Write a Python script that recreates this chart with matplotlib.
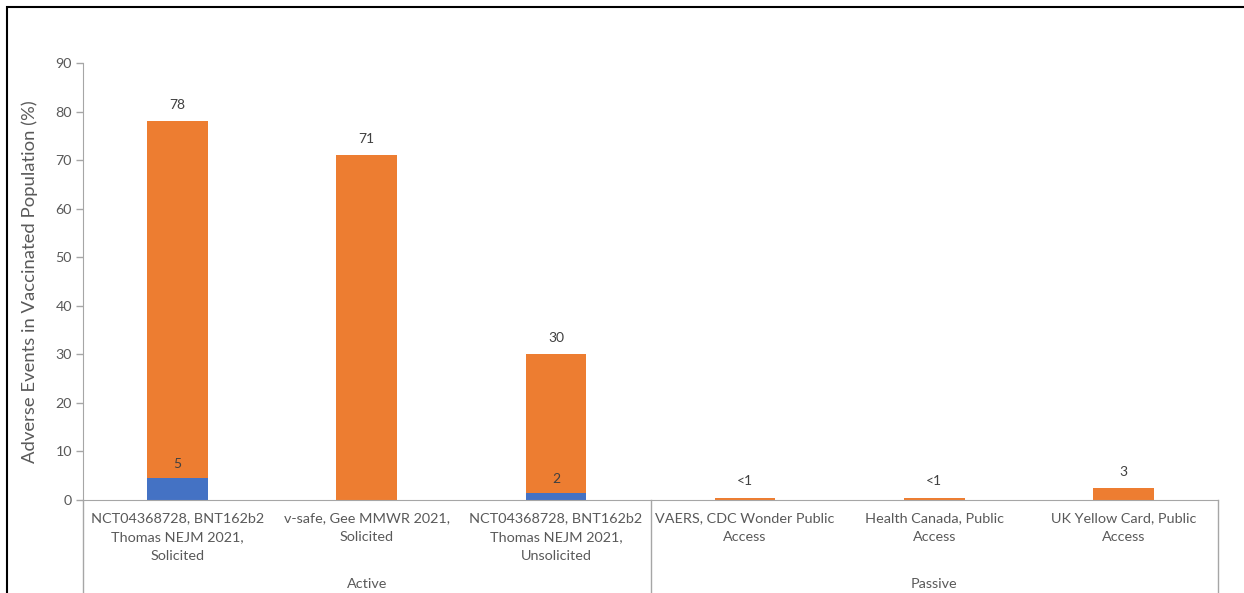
import matplotlib
matplotlib.use("Agg")
import matplotlib.pyplot as plt
from matplotlib.lines import Line2D

plt.rcParams['font.family'] = ['Lato', 'DejaVu Sans']

categories = [
    "NCT04368728, BNT162b2\nThomas NEJM 2021,\nSolicited",
    "v-safe, Gee MMWR 2021,\nSolicited",
    "NCT04368728, BNT162b2\nThomas NEJM 2021,\nUnsolicited",
    "VAERS, CDC Wonder Public\nAccess",
    "Health Canada, Public\nAccess",
    "UK Yellow Card, Public\nAccess",
]
groups = ["Active", "Passive"]
group_sizes = [3, 3]
blue_values = [4.5, 0, 1.4, 0, 0, 0]
orange_values = [73.5, 71, 28.6, 0.4, 0.4, 2.4]
blue_labels = ["5", "", "2", "", "", ""]
total_labels = ["78", "71", "30", "<1", "<1", "3"]
yticks = [0, 10, 20, 30, 40, 50, 60, 70, 80, 90]
ylabel = "Adverse Events in Vaccinated Population (%)"

W, H = 1244, 593
fig = plt.figure(figsize=(W / 100, H / 100), dpi=100)
ax = fig.add_axes([83 / W, 1 - 500 / H, (1218 - 83) / W, (500 - 63) / H])

gray_text = "#595959"
line_gray = "#a6a6a6"
blue = "#4472C4"
orange = "#ED7D31"

x = list(range(len(categories)))
ax.bar(x, blue_values, width=0.32, color=blue, zorder=2)
ax.bar(x, orange_values, width=0.32, bottom=blue_values, color=orange, zorder=2)

for i in x:
    total = blue_values[i] + orange_values[i]
    ax.text(i, total + 2.2, total_labels[i], ha="center", va="bottom",
            fontsize=10, color="#404040")
    if blue_labels[i]:
        ax.text(i, blue_values[i] + 1.6, blue_labels[i], ha="center",
                va="bottom", fontsize=10, color="#404040")

ax.set_xlim(-0.5, len(categories) - 0.5)
ax.set_ylim(0, 90)
ax.set_yticks(yticks)
ax.tick_params(axis="y", colors=line_gray, labelcolor=gray_text,
               labelsize=10.3, length=5, width=1, pad=3)
ax.set_xticks(x)
ax.set_xticklabels(categories, fontsize=10.4, color=gray_text, linespacing=1.65)
ax.tick_params(axis="x", length=0, pad=9)

for s in ["top", "right"]:
    ax.spines[s].set_visible(False)
ax.spines["left"].set_color(line_gray)
ax.spines["bottom"].set_color(line_gray)

ax.set_ylabel(ylabel, fontsize=13.3, color=gray_text)
ax.yaxis.set_label_coords(-45 / (1218 - 83), 0.5)

# group separators and labels
trans = ax.get_xaxis_transform()
edges = [-0.5]
for g in group_sizes:
    edges.append(edges[-1] + g)
for e in edges:
    ax.add_line(Line2D([e, e], [0, -0.3], transform=trans, color=line_gray,
                       lw=1, clip_on=False))
start = -0.5
for g, n in zip(groups, group_sizes):
    ax.text(start + n / 2, -84 / 437, g, transform=trans, ha="center",
            va="center", fontsize=10.4, color=gray_text)
    start += n

# outer frame
fig.add_artist(plt.Rectangle((7 / W, -0.1), 1.2, 1 - 7 / H + 0.1,
                             transform=fig.transFigure, fill=False,
                             edgecolor="black", lw=1.5))

fig.savefig("out.png", dpi=100)
